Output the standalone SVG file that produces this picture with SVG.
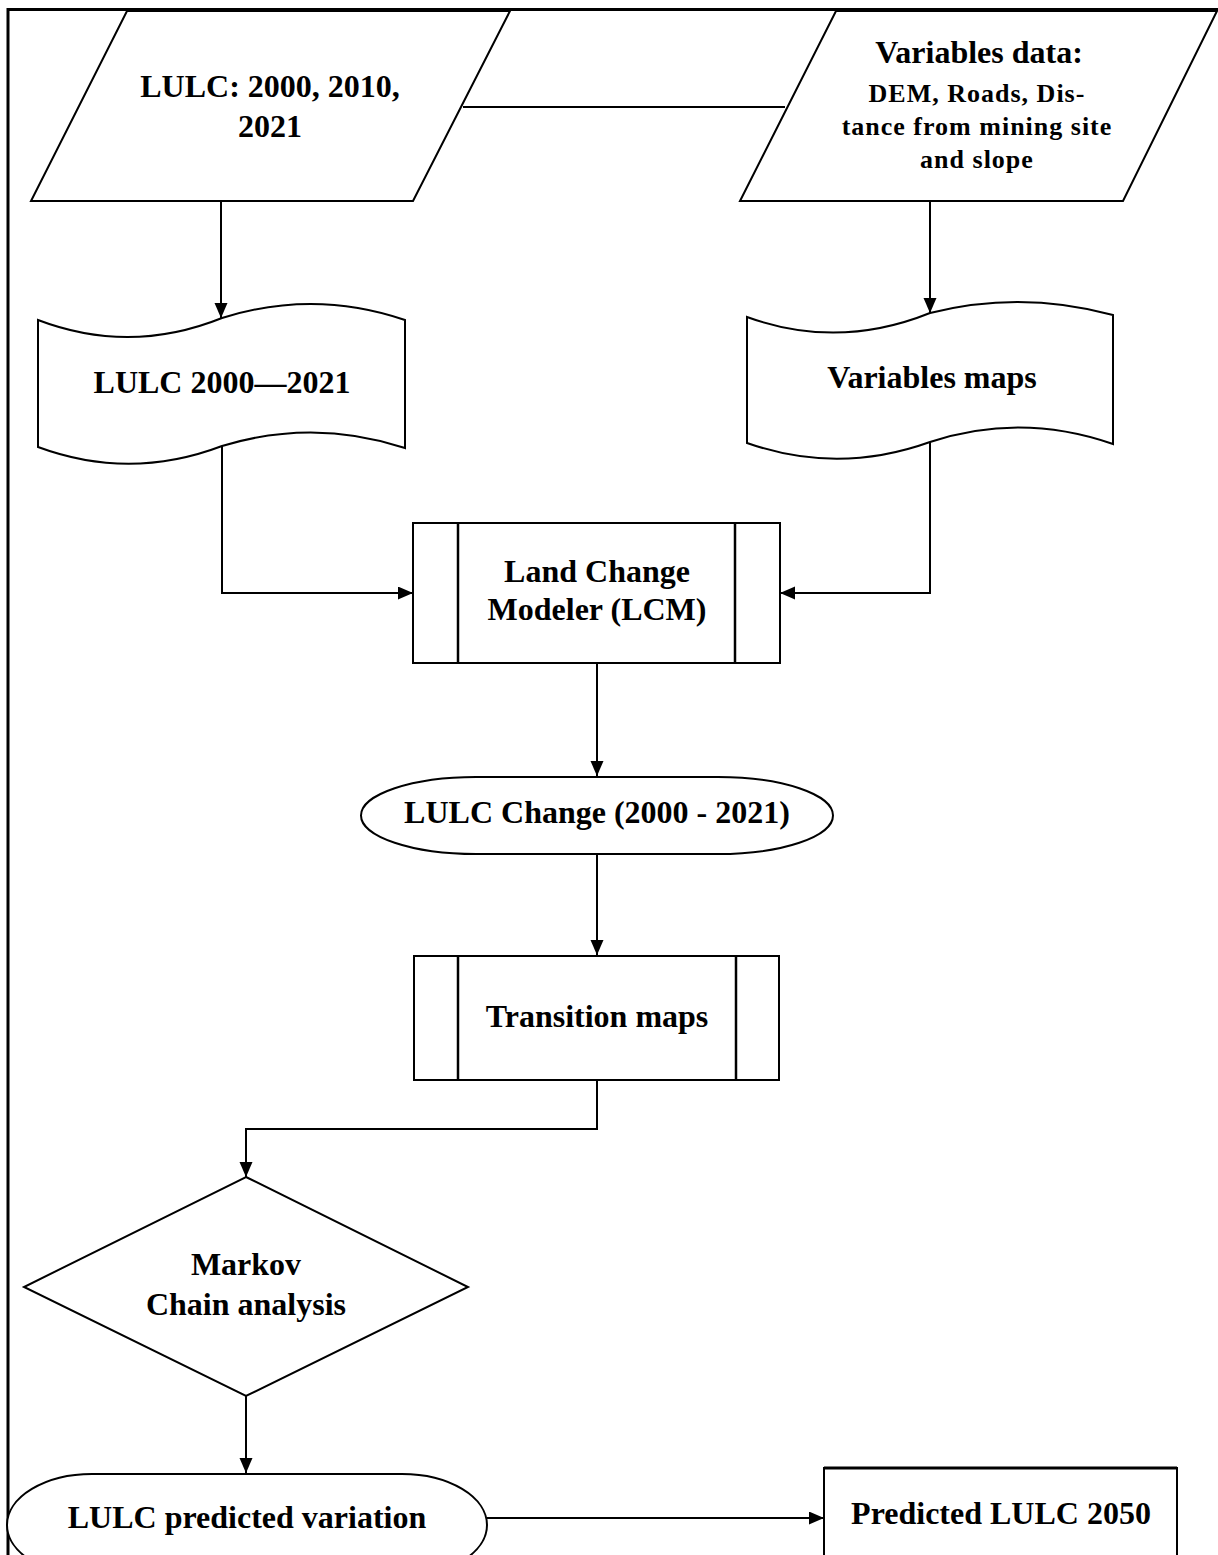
<svg xmlns="http://www.w3.org/2000/svg" width="1218" height="1555" viewBox="0 0 1218 1555">
<style>
.shape{fill:#fff;stroke:#000;stroke-width:2}
.inner{stroke:#000;stroke-width:2.5;fill:none}
.conn{fill:none;stroke:#000;stroke-width:2}
.t{font-family:"Liberation Serif","Times New Roman",serif;font-weight:bold;font-size:32px;fill:#000;text-anchor:middle}
.s{font-size:26px;letter-spacing:1px}
</style>
<defs>
<marker id="ah" markerUnits="userSpaceOnUse" markerWidth="15" markerHeight="14" refX="15" refY="6.5" orient="auto">
<path d="M0,0 L15,6.5 L0,13 Z" fill="#000"/>
</marker>
</defs>
<rect width="1218" height="1555" fill="#fff"/>
<g id="frame">
<line x1="8" y1="8" x2="8" y2="1555" stroke="#000" stroke-width="3"/>
<line x1="8" y1="9.5" x2="1218" y2="9.5" stroke="#000" stroke-width="3"/>
</g>
<g id="connectors">
<line class="conn" x1="463" y1="107" x2="785" y2="107"/>
<line class="conn" x1="221" y1="201" x2="221" y2="318" marker-end="url(#ah)"/>
<line class="conn" x1="930" y1="201" x2="930" y2="313" marker-end="url(#ah)"/>
<polyline class="conn" points="222,446 222,593 413,593" marker-end="url(#ah)"/>
<polyline class="conn" points="930,442 930,593 780,593" marker-end="url(#ah)"/>
<line class="conn" x1="597" y1="663" x2="597" y2="776" marker-end="url(#ah)"/>
<line class="conn" x1="597" y1="854" x2="597" y2="955" marker-end="url(#ah)"/>
<polyline class="conn" points="597,1080 597,1129 246,1129 246,1177" marker-end="url(#ah)"/>
<line class="conn" x1="246" y1="1396" x2="246" y2="1473" marker-end="url(#ah)"/>
<line class="conn" x1="487" y1="1518" x2="824" y2="1518" marker-end="url(#ah)"/>
</g>
<g id="lulc-input">
<polygon class="shape" points="127,11 510,11 413,201 31,201"/>
<text class="t" x="270" y="97">LULC: 2000, 2010,</text>
<text class="t" x="270" y="137">2021</text>
</g>
<g id="variables-data">
<polygon class="shape" points="836,11 1217,11 1123,201 740,201"/>
<text class="t" x="979" y="63">Variables data:</text>
<text class="t s" x="977" y="102">DEM, Roads, Dis-</text>
<text class="t s" x="977" y="135">tance from mining site</text>
<text class="t s" x="977" y="168">and slope</text>
</g>
<g id="lulc-2000-2021">
<path class="shape" d="M38,320 Q130,355 222,318 Q314,289 405,320 L405,448 Q314,418 222,446 Q130,481 38,447 Z"/>
<text class="t" x="222" y="393">LULC 2000—2021</text>
</g>
<g id="variables-maps">
<path class="shape" d="M747,317 Q838,350 930,313 Q1021,290 1113,315 L1113,444 Q1021,412 930,442 Q838,475 747,443 Z"/>
<text class="t" x="932" y="388">Variables maps</text>
</g>
<g id="lcm">
<rect class="shape" x="413" y="523" width="367" height="140"/>
<line class="inner" x1="458" y1="523" x2="458" y2="663"/>
<line class="inner" x1="735" y1="523" x2="735" y2="663"/>
<text class="t" x="597" y="582">Land Change</text>
<text class="t" x="597" y="620">Modeler (LCM)</text>
</g>
<g id="lulc-change">
<rect class="shape" x="361" y="777" width="472" height="77" rx="115" ry="38.5"/>
<text class="t" x="597" y="823">LULC Change (2000 - 2021)</text>
</g>
<g id="transition-maps">
<rect class="shape" x="414" y="956" width="365" height="124"/>
<line class="inner" x1="458" y1="956" x2="458" y2="1080"/>
<line class="inner" x1="736" y1="956" x2="736" y2="1080"/>
<text class="t" x="597" y="1027">Transition maps</text>
</g>
<g id="markov">
<polygon class="shape" points="246,1177 468,1287 246,1396 24,1287"/>
<text class="t" x="246" y="1275">Markov</text>
<text class="t" x="246" y="1315">Chain analysis</text>
</g>
<g id="lulc-predicted-variation">
<rect class="shape" x="7" y="1474" width="480" height="102" rx="85" ry="51"/>
<text class="t" x="247" y="1528">LULC predicted variation</text>
</g>
<g id="predicted-lulc-2050">
<rect class="shape" x="824" y="1468" width="353" height="120"/>
<line x1="824" y1="1468" x2="1177" y2="1468" stroke="#000" stroke-width="3"/>
<text class="t" x="1001" y="1524">Predicted LULC 2050</text>
</g>
</svg>
